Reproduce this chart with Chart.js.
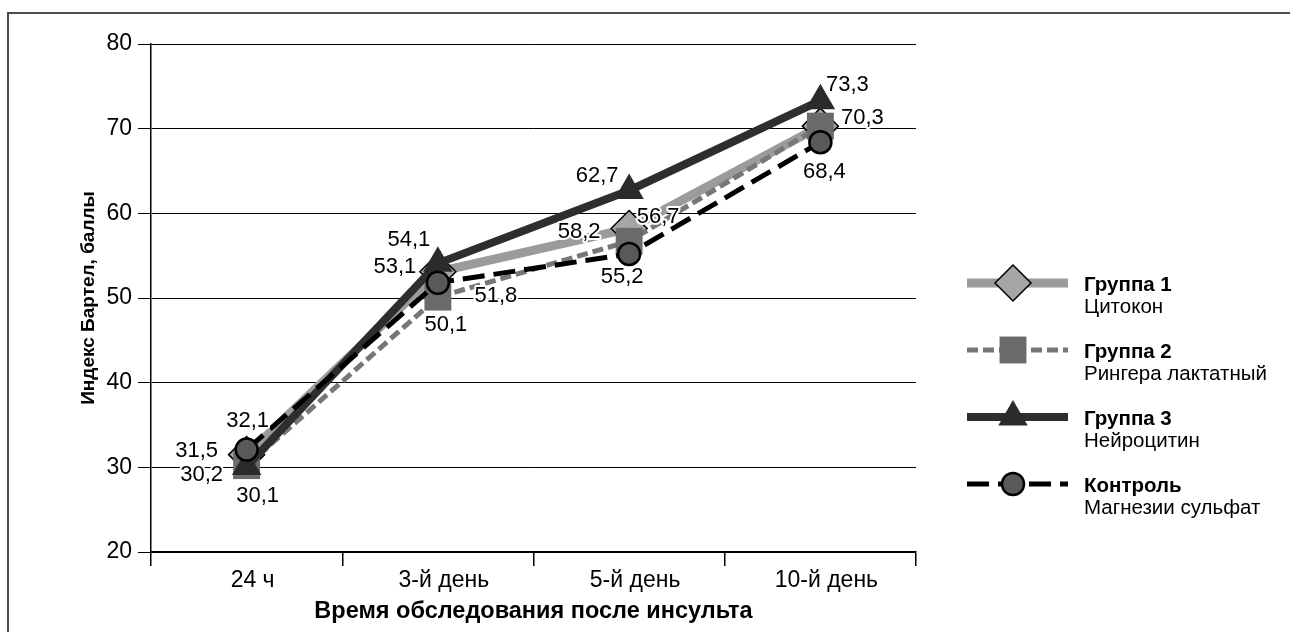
<!DOCTYPE html>
<html>
<head>
<meta charset="utf-8">
<script src="https://cdn.jsdelivr.net/npm/chart.js@4.4.0/dist/chart.umd.min.js"></script>
<style>
  html, body { margin: 0; padding: 0; background: #fff; }
  #wrap { width: 1290px; height: 632px; position: relative; }
</style>
</head>
<body>
<div id="wrap"><canvas id="myChart"></canvas></div>
<script>
// data
const categories = ["24 ч", "3-й день", "5-й день", "10-й день"];
const group1 = [31.5, 53.1, 58.2, 70.3];   // Цитокон
const group2 = [30.2, 50.1, 56.7, 70.3];   // Рингера лактатный
const group3 = [30.1, 54.1, 62.7, 73.3];   // Нейроцитин
const control = [32.1, 51.8, 55.2, 68.4];  // Магнезии сульфат
const seriesNames = ["Группа 1", "Группа 2", "Группа 3", "Контроль"];
const seriesDrugs = ["Цитокон", "Рингера лактатный", "Нейроцитин", "Магнезии сульфат"];
const yMin = 20, yMax = 80, yStep = 10;

// where each value label sits relative to its point (null = not shown)
const labelShift = [
  [[-50, -4], [-43, -5], [-50, 3], [42, -8]],
  [[-45, 9], [8, 28], [29, -24], null],
  [[11, 29], [-29, -23], [-32, -15], [27, -16]],
  [[1, -29], [58, 13], [-7, 23], [4, 30]]
];

const FONT = "'Liberation Sans', Arial, sans-serif";
Chart.defaults.font.family = FONT;
Chart.defaults.color = "#000";

function marker(ctx, style, x, y, r, fill, stroke, bw) {
  ctx.save();
  ctx.beginPath();
  if (style === "rectRot") {
    ctx.moveTo(x, y - r); ctx.lineTo(x + r, y); ctx.lineTo(x, y + r); ctx.lineTo(x - r, y);
    ctx.closePath();
  } else if (style === "rect") {
    const s = r * Math.SQRT1_2;
    ctx.rect(x - s, y - s, 2 * s, 2 * s);
  } else if (style === "triangle") {
    ctx.moveTo(x, y - r);
    ctx.lineTo(x + r * Math.sqrt(3) / 2, y + r / 2);
    ctx.lineTo(x - r * Math.sqrt(3) / 2, y + r / 2);
    ctx.closePath();
  } else {
    ctx.arc(x, y, r, 0, Math.PI * 2);
  }
  ctx.fillStyle = fill;
  ctx.fill();
  if (bw) { ctx.lineWidth = bw; ctx.strokeStyle = stroke; ctx.stroke(); }
  ctx.restore();
}

const framePlugin = {
  id: "frame",
  beforeDraw(chart) {
    const ctx = chart.ctx;
    ctx.save();
    ctx.strokeStyle = "#4d4d4d";
    ctx.lineWidth = 2;
    ctx.beginPath();
    ctx.moveTo(1290, 13); ctx.lineTo(8, 13); ctx.lineTo(8, 632);
    ctx.stroke();
    ctx.restore();
  }
};

const valueLabels = {
  id: "valueLabels",
  afterDatasetsDraw(chart) {
    const ctx = chart.ctx;
    ctx.save();
    ctx.font = "22px " + FONT;
    ctx.textAlign = "center";
    ctx.textBaseline = "middle";
    ctx.lineJoin = "round";
    chart.data.datasets.forEach((ds, i) => {
      const meta = chart.getDatasetMeta(i);
      meta.data.forEach((pt, j) => {
        const sh = labelShift[i][j];
        if (!sh) return;
        const txt = ds.data[j].toFixed(1).replace(".", ",");
        const x = pt.x + sh[0], y = pt.y + sh[1];
        ctx.strokeStyle = "#fff";
        ctx.lineWidth = 4;
        ctx.strokeText(txt, x, y);
        ctx.fillStyle = "#000";
        ctx.fillText(txt, x, y);
      });
    });
    ctx.restore();
  }
};

const sideLegend = {
  id: "sideLegend",
  afterDraw(chart) {
    const ctx = chart.ctx;
    ctx.save();
    chart.data.datasets.forEach((ds, i) => {
      const y = 283 + i * 67;
      ctx.beginPath();
      ctx.setLineDash(ds.borderDash || []);
      ctx.strokeStyle = ds.borderColor;
      ctx.lineWidth = ds.borderWidth;
      ctx.moveTo(967, y); ctx.lineTo(1068, y);
      ctx.stroke();
      ctx.setLineDash([]);
      marker(ctx, ds.pointStyle, 1013, y, ds.pointRadius, ds.pointBackgroundColor, ds.pointBorderColor, ds.pointBorderWidth);
      ctx.fillStyle = "#000";
      ctx.textAlign = "left";
      ctx.textBaseline = "middle";
      ctx.font = "bold 20.5px " + FONT;
      ctx.fillText(seriesNames[i], 1084, y + 2);
      ctx.font = "20.5px " + FONT;
      ctx.fillText(seriesDrugs[i], 1084, y + 24);
    });
    ctx.restore();
  }
};

const ctx = document.getElementById("myChart").getContext("2d");

new Chart(ctx, {
  type: "line",
  data: {
    labels: categories,
    datasets: [
      {
        label: seriesNames[0], data: group1, order: 4,
        borderColor: "#9b9b9b", borderWidth: 9,
        pointStyle: "rectRot", pointRadius: 18,
        pointBackgroundColor: "#a6a6a6", pointBorderColor: "#000", pointBorderWidth: 1.5
      },
      {
        label: seriesNames[1], data: group2, order: 3,
        borderColor: "#777777", borderWidth: 5, borderDash: [11, 5],
        pointStyle: "rect", pointRadius: 19,
        pointBackgroundColor: "#6a6a6a", pointBorderColor: "#6a6a6a", pointBorderWidth: 0
      },
      {
        label: seriesNames[2], data: group3, order: 2,
        borderColor: "#2e2e2e", borderWidth: 8,
        pointStyle: "triangle", pointRadius: 17,
        pointBackgroundColor: "#2b2b2b", pointBorderColor: "#2b2b2b", pointBorderWidth: 0
      },
      {
        label: seriesNames[3], data: control, order: 1,
        borderColor: "#000", borderWidth: 5, borderDash: [22, 9],
        pointStyle: "circle", pointRadius: 11,
        pointBackgroundColor: "#595959", pointBorderColor: "#000", pointBorderWidth: 2.5
      }
    ]
  },
  options: {
    responsive: true,
    maintainAspectRatio: false,
    animation: false,
    clip: false,
    layout: { padding: { left: 0, right: 374, top: 44, bottom: 0 } },
    elements: { line: { tension: 0, fill: false }, point: { hoverRadius: 0 } },
    plugins: { legend: { display: false }, tooltip: { enabled: false } },
    scales: {
      x: {
        offset: true,
        grid: { offset: true, drawOnChartArea: false, color: "#000", lineWidth: 1.5, tickLength: 14 },
        border: { color: "#000", width: 1.5 },
        ticks: { color: "#000", font: { size: 23 }, padding: 1, maxRotation: 0, labelOffset: 6 },
        title: {
          display: true, text: "Время обследования после инсульта", color: "#000",
          font: { size: 23.5, weight: "bold" }, padding: { top: 0, bottom: 6 }
        },
        afterFit(s) { s.height = 80; }
      },
      y: {
        min: yMin, max: yMax,
        ticks: { stepSize: yStep, color: "#000", font: { size: 23 }, padding: 6 },
        grid: { color: "#000", lineWidth: 1, tickLength: 13 },
        border: { color: "#000", width: 1.5 },
        title: {
          display: true, text: "Индекс Бартел, баллы", color: "#000",
          font: { size: 19, weight: "bold" }, padding: { top: 77, bottom: 0 }
        },
        afterFit(s) { s.width = 151; }
      }
    }
  },
  plugins: [framePlugin, valueLabels, sideLegend]
});
</script>
</body>
</html>
